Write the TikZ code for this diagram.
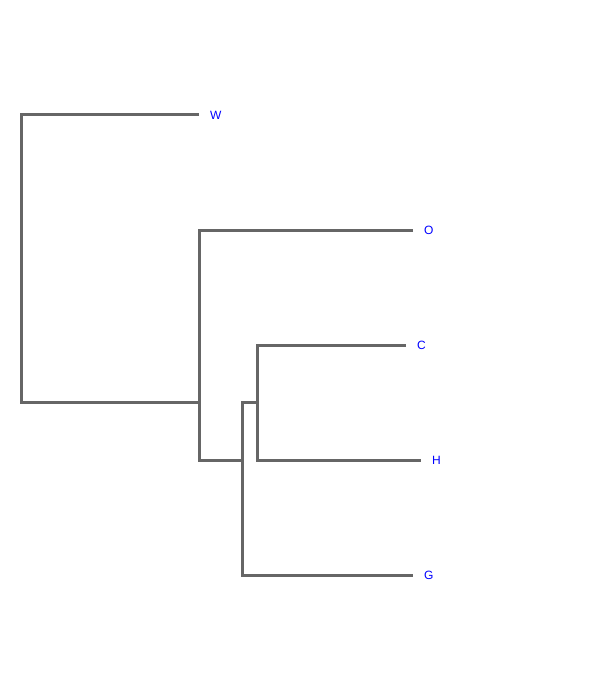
\documentclass[tikz,border=0pt]{standalone}
\usepackage{fontspec}
\setmainfont{Liberation Sans}
\usetikzlibrary{positioning}
\definecolor{rama}{HTML}{666666}
\begin{document}
\begin{tikzpicture}[x=1pt, y=-1pt,
    branch/.style={draw=rama, line width=3pt},
    leaf/.style={inner sep=0pt, text=blue, font=\fontsize{12}{14}\selectfont, anchor=west}]
        \useasboundingbox (0,0) rectangle (600,690);
        
        % Nodos internos del dendrograma
        \coordinate (r) at (21,300);
        \coordinate (n1) at (199,402);
        \coordinate (n2) at (242,460);
        \coordinate (n3) at (257,402);
        
        % Extremos de las hojas
        \coordinate (tw) at (199,115);
        \coordinate (to) at (413,230);
        \coordinate (tc) at (406,345);
        \coordinate (th) at (421,460);
        \coordinate (tg) at (413,575);
        
        % Etiquetas de las hojas
        \node[leaf, right=11pt of tw, yshift=-0.4pt] (w) {W};
        \node[leaf, right=11pt of to, yshift=-0.4pt] (o) {O};
        \node[leaf, right=11pt of tc, yshift=-0.4pt] (c) {C};
        \node[leaf, right=11pt of th, yshift=-0.4pt] (h) {H};
        \node[leaf, right=11pt of tg, yshift=-0.4pt] (g) {G};
        
        % Ramas
        \draw[branch] (tw) -| (r) |- (n1);
        \draw[branch] (to) -| (n1) |- (n2);
        \draw[branch] (n3) -| (n2) |- (tg);
        \draw[branch] (tc) -| (n3) |- (th);
    \end{tikzpicture}
\end{document}
